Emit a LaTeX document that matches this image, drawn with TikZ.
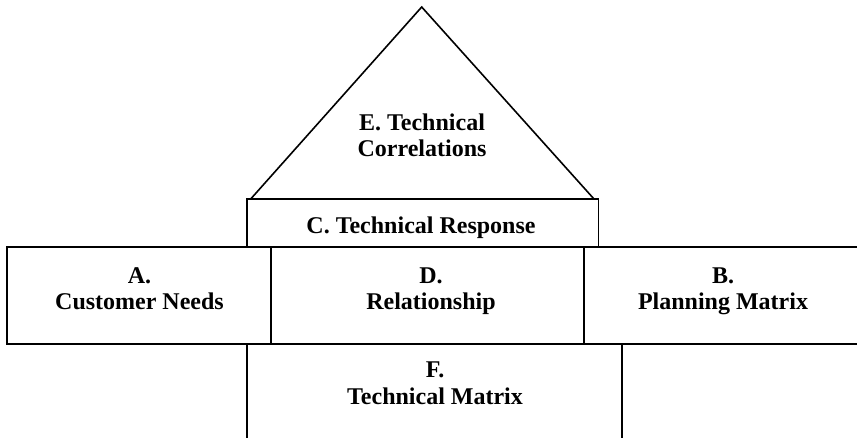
\documentclass[tikz,border=0pt]{standalone}
\usepackage{fontspec}
\setmainfont{Liberation Serif}
\begin{document}
\begin{tikzpicture}[x=1pt,y=-1pt,line width=1.6pt,
  lbl/.style={font=\fontsize{24}{26.5}\selectfont\bfseries,align=center,inner sep=0pt,anchor=north}]
\useasboundingbox (0,0) rectangle (857,438);
% key points
\coordinate (apex) at (421.7,7);
\coordinate (tl) at (250.7,199);
\coordinate (tr) at (594,199);
\coordinate (cnw) at (246.7,199);
\coordinate (cse) at (598.3,247.3);
\coordinate (rowtl) at (6.7,247.3);
\coordinate (rowtr) at (857,247.3);
\coordinate (rowbl) at (6.7,344);
\coordinate (rowbr) at (857,344);
\coordinate (adt) at (271,247.3);
\coordinate (adb) at (271,344);
\coordinate (dbt) at (583.7,247.3);
\coordinate (dbb) at (583.7,344);
\coordinate (flt) at (247,344);
\coordinate (flb) at (247,438);
\coordinate (frt) at (622,344);
\coordinate (frb) at (622,438);
% shapes
\draw (tl) -- (apex) -- (tr);
\draw (cnw) rectangle (cse);
\draw (rowtr) -- (rowtl) -- (rowbl) -- (rowbr);
\draw (adt) -- (adb);
\draw (dbt) -- (dbb);
\draw (flt) -- (flb);
\draw (frt) -- (frb);
% labels
\node[lbl] (E) at (422,113) {E. Technical\\Correlations};
\node[lbl,anchor=base] (C) at (421,233.5) {C. Technical Response};
\node[lbl] (A) at (139.5,266.5) {A.\\Customer Needs};
\node[lbl] (D) at (431,266.5) {D.\\Relationship};
\node[lbl] (B) at (723,266.5) {B.\\Planning Matrix};
\node[lbl] (F) at (435,361) {F.\\Technical Matrix};
\end{tikzpicture}
\end{document}
